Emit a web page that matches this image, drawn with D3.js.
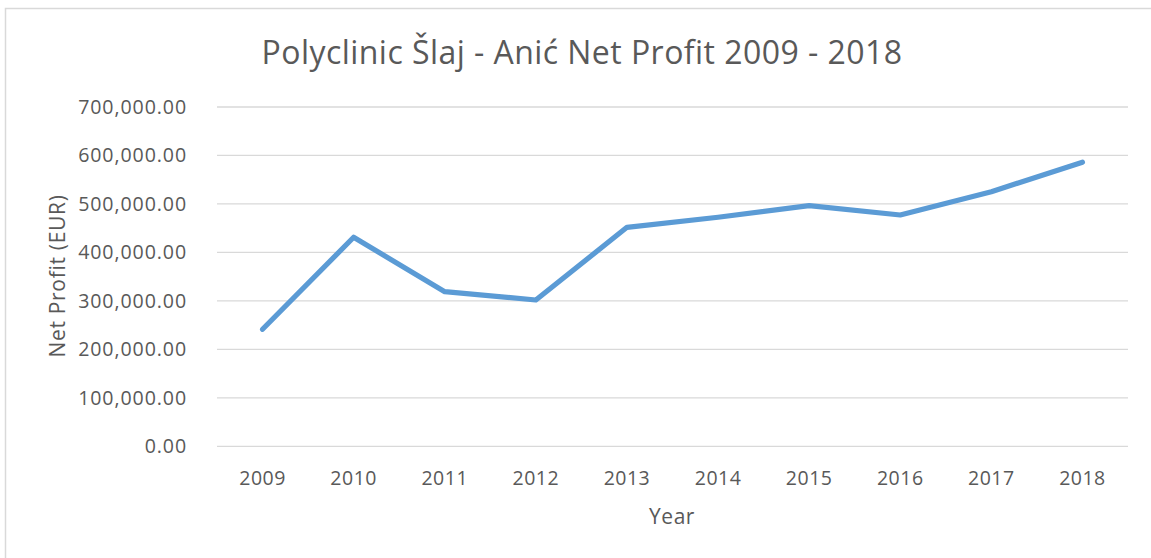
<!DOCTYPE html>
<html><head><meta charset="utf-8">
<script src="https://cdn.jsdelivr.net/npm/d3@7"></script>
<style>body{margin:0;background:#fff}svg{display:block}text{font-family:"Open Sans",sans-serif;fill:#595959}</style>
</head><body><svg id="c" width="1151" height="558"></svg>
<script>
const years = ["2009","2010","2011","2012","2013","2014","2015","2016","2017","2018"];
const netProfit = [241400,431200,319000,301800,451800,472500,496400,477200,525300,586000];
const yTicks = [0,100000,200000,300000,400000,500000,600000,700000];
const title = "Polyclinic Šlaj - Anić Net Profit 2009 - 2018";

(function(){
const svg = d3.select("#c");
svg.append("rect").attr("x",5.5).attr("y",8.5).attr("width",1200).attr("height",600).attr("fill","#fff").attr("stroke","#d9d9d9").attr("stroke-width",1.5);

const pl=217, pr=1128, pt=107, pb=446.3;
const x = d3.scaleBand().domain(years).range([pl,pr]);
const y = d3.scaleLinear().domain([0,700000]).range([pb,pt]);
const fmt = d3.format(",.2f");

const grid = svg.append("g");
grid.selectAll("line").data(yTicks).join("line")
  .attr("x1",pl).attr("x2",pr).attr("y1",d=>y(d)).attr("y2",d=>y(d))
  .attr("stroke","#d9d9d9").attr("stroke-width",1.3);

const yAxis = svg.append("g").attr("transform",`translate(${pl},0)`)
  .call(d3.axisLeft(y).tickValues(yTicks).tickFormat(fmt).tickSize(0).tickPadding(30));
yAxis.select(".domain").remove();
yAxis.selectAll("text").attr("font-size",19.6).attr("letter-spacing","0.9px").attr("fill","#595959").attr("font-family","Open Sans");

const xAxis = svg.append("g").attr("transform",`translate(0,${pb})`)
  .call(d3.axisBottom(x).tickSize(0).tickPadding(25));
xAxis.select(".domain").remove();
xAxis.selectAll("text").attr("font-size",19.5).attr("letter-spacing","0.5px").attr("fill","#595959").attr("font-family","Open Sans");

const line = d3.line().x((d,i)=>x(years[i])+x.bandwidth()/2).y(d=>y(d));
svg.append("path").datum(netProfit).attr("d",line).attr("fill","none")
  .attr("stroke","#5b9bd5").attr("stroke-width",5.2).attr("stroke-linecap","round").attr("stroke-linejoin","round");

svg.append("text").attr("x",582).attr("y",64).attr("text-anchor","middle").attr("font-size",32).attr("letter-spacing","0.45px").text(title);
svg.append("text").attr("x",672).attr("y",524).attr("text-anchor","middle").attr("font-size",21).attr("letter-spacing","0.5px").text("Year");
svg.append("text").attr("transform","translate(65,276) rotate(-90)").attr("text-anchor","middle").attr("font-size",21).attr("letter-spacing","0.7px").text("Net Profit (EUR)");
})();
</script></body></html>
